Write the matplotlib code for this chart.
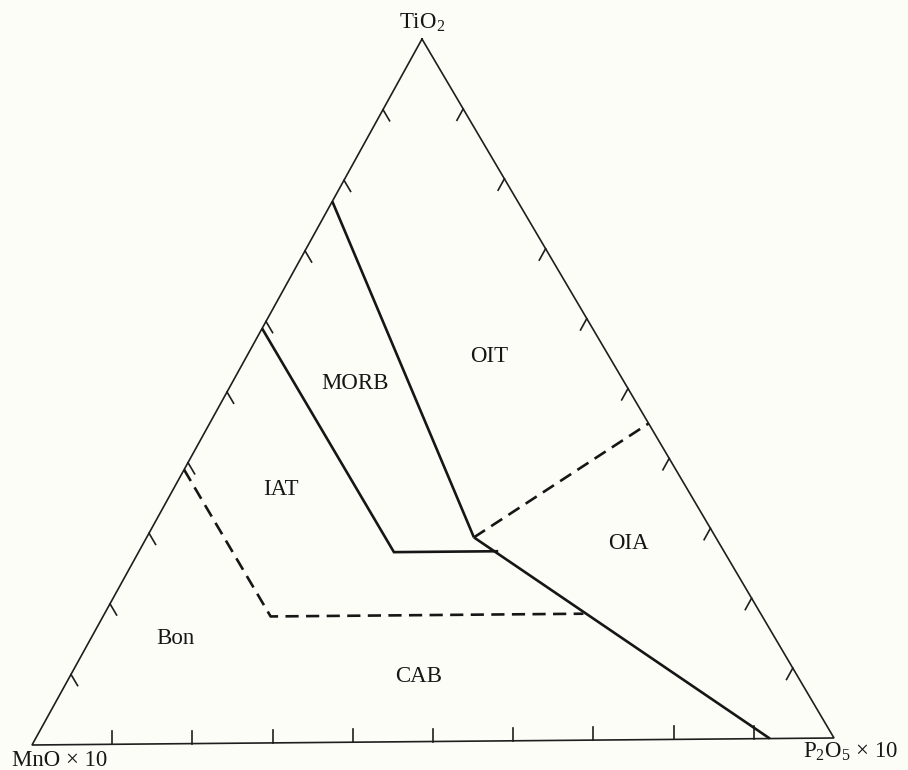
import matplotlib.pyplot as plt
import numpy as np

plt.rcParams['font.family'] = ['Liberation Serif', 'DejaVu Serif']
plt.rcParams['mathtext.fontset'] = 'custom'
plt.rcParams['mathtext.rm'] = 'Liberation Serif'
plt.rcParams['mathtext.it'] = 'Liberation Serif:italic'

# corner labels: TiO2 (top), MnO x 10 (lower left), P2O5 x 10 (lower right)
apex_labels = ['TiO$_\\mathregular{2}$', 'MnO × 10', 'P$_\\mathregular{2}$O$_\\mathregular{5}$ × 10']

# field boundaries, points given as (TiO2, MnO, P2O5) fractions
morb_oit = [(0.77, 0.23, 0.00), (0.29, 0.30, 0.41)]
ocean_arc = [(0.29, 0.30, 0.41), (0.00, 0.08, 0.92)]
iat_morb = [(0.59, 0.41, 0.00), (0.27, 0.41, 0.32), (0.27, 0.28, 0.45)]
oit_oia = [(0.29, 0.30, 0.41), (0.45, 0.00, 0.55)]
bon_iat = [(0.39, 0.61, 0.00), (0.18, 0.61, 0.21), (0.18, 0.22, 0.60)]

# field names and where they sit
fields = ['MORB', 'OIT', 'IAT', 'OIA', 'Bon', 'CAB']
field_tio2 = [0.51, 0.547, 0.36, 0.28, 0.15, 0.093]
field_mno = [0.335, 0.149, 0.5045, 0.113, 0.7436, 0.47]
field_p2o5 = [0.155, 0.304, 0.1355, 0.607, 0.1064, 0.437]

tick_fracs = np.arange(1, 10) / 10

# apex positions on the page (pixels, y down)
T = np.array([422.0, 39.0])
M = np.array([32.0, 745.0])
P = np.array([834.0, 738.0])


def to_xy(tio2, mno, p2o5):
    s = tio2 + mno + p2o5
    return (tio2 * T + mno * M + p2o5 * P) / s


def draw_path(ax, pts, **kw):
    xy = np.array([to_xy(*p) for p in pts])
    ax.plot(xy[:, 0], xy[:, 1], color='#161616', solid_capstyle='butt',
            solid_joinstyle='miter', **kw)


fig = plt.figure(figsize=(9.08, 7.70), dpi=100, facecolor='#fdfdf8')
ax = fig.add_axes([0, 0, 1, 1])
ax.set_facecolor('#fdfdf8')
ax.set_xlim(0, 908)
ax.set_ylim(770, 0)
ax.axis('off')

# outline
tri = np.array([T, M, P, T])
ax.plot(tri[:, 0], tri[:, 1], color='#1e1e1e', lw=1.2, solid_joinstyle='miter')

# ticks every 10 %
tick_len = 13.0
up_right = (P - T) / np.linalg.norm(P - T)
down_left = (M - T) / np.linalg.norm(M - T)
for f in tick_fracs:
    a = M + f * (T - M)
    b = a + tick_len * up_right
    ax.plot([a[0], b[0]], [a[1], b[1]], color='#1e1e1e', lw=1.2)
    a = T + f * (P - T)
    b = a + tick_len * down_left
    ax.plot([a[0], b[0]], [a[1], b[1]], color='#1e1e1e', lw=1.2)
    a = M + f * (P - M)
    ax.plot([a[0], a[0]], [a[1], a[1] - tick_len], color='#1e1e1e', lw=1.2)

# solid boundaries
for line in (morb_oit, ocean_arc, iat_morb):
    draw_path(ax, line, lw=1.9)

# dashed boundaries
for line in (oit_oia, bon_iat):
    draw_path(ax, line, lw=1.9, linestyle=(0, (5.0, 2.8)))

for name, t, m, p in zip(fields, field_tio2, field_mno, field_p2o5):
    x, y = to_xy(t, m, p)
    ax.text(x, y, name, fontsize=16.5, ha='center', va='center', color='#161616')

ax.text(T[0], 23, apex_labels[0], fontsize=16.5, ha='center', va='center', color='#161616')
ax.text(12, 760, apex_labels[1], fontsize=16.5, ha='left', va='center', color='#161616')
ax.text(803, 752, apex_labels[2], fontsize=16.5, ha='left', va='center', color='#161616')

fig.savefig('out.png', dpi=100, facecolor=fig.get_facecolor())
